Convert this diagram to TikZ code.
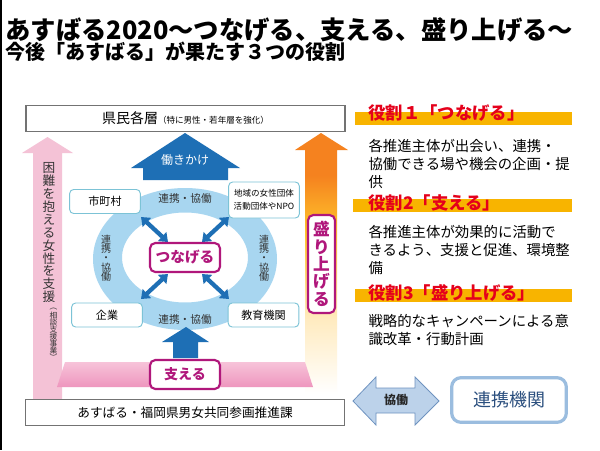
\documentclass[tikz,border=0pt]{standalone}
\usepackage{fontspec}
\setmainfont{Noto Sans CJK JP}
\usetikzlibrary{positioning,arrows.meta}

\definecolor{asuPink}{HTML}{F4C2D6}
\definecolor{asuBandTop}{HTML}{F7C3D9}
\definecolor{asuBand}{HTML}{EE96BE}
\definecolor{asuMagenta}{HTML}{B0177B}
\definecolor{asuRing}{HTML}{A8D6F0}
\definecolor{asuLine}{HTML}{7CC3D6}
\definecolor{asuBlue}{HTML}{1E6FB5}
\definecolor{asuRed}{HTML}{E5001B}
\definecolor{asuBar}{HTML}{F8B400}
\definecolor{asuOrange}{HTML}{F5821F}
\definecolor{asuYellow}{HTML}{FFC72C}
\definecolor{asuPale}{HTML}{FFEBC0}
\definecolor{asuArrow}{HTML}{BCD2EA}
\definecolor{asuArrowLine}{HTML}{6F93C0}
\definecolor{asuFrame}{HTML}{9BBDDF}
\definecolor{asuNavy}{HTML}{2B4F7E}

\pgfdeclareverticalshading{riseup}{100bp}{color(0bp)=(white); color(26bp)=(white); color(40bp)=(asuPale); color(56bp)=(asuYellow); color(67bp)=(asuOrange); color(100bp)=(asuOrange)}

\lineskiplimit=-10pt

\begin{document}
\begin{tikzpicture}[x=0.75pt,y=-0.75pt,thick,node distance=84.75pt,
    outer box/.style={draw=black!55,fill=white,line width=0.8pt,minimum width=239.25pt,minimum height=19.5pt,inner sep=0pt},
    member box/.style={draw=asuLine,fill=white,rounded corners=3pt,line width=0.7pt,minimum width=53pt,minimum height=18pt,inner sep=0pt,font=\fontsize{8.3}{10}\selectfont},
    key box/.style={draw=asuMagenta,fill=white,rounded corners=4pt,line width=1.6pt,text=asuMagenta,inner sep=0pt},
    link label/.style={inner sep=0pt,text=black!80,font=\fontsize{8}{9}\selectfont},
    column label/.style={inner sep=0pt,align=center,text=black!80,font=\fontsize{7.5}{7}\selectfont},
    aid char/.style={inner sep=0pt,text=black!80,font=\fontsize{9.5}{11}\selectfont},
    note char/.style={inner sep=0pt,text=black!80,font=\fontsize{5.8}{7}\selectfont},
    role bar/.style={fill=asuBar},
    role head/.style={anchor=west,inner sep=0pt,text=asuRed,font=\fontsize{13}{15}\selectfont\bfseries},
    role text/.style={anchor=west,inner sep=0pt,align=left,font=\fontsize{10.8}{13.5}\selectfont},
    cross arrow/.style={{Triangle[length=6pt,width=9pt]}-{Triangle[length=6pt,width=9pt]},line width=3.2pt,asuBlue}]

    \fill[white] (0,0) rectangle (600,450);
    \useasboundingbox (0,0) rectangle (600,450);
    \fill[black] (0,0) rectangle (2,450);

    \node[anchor=west,inner sep=0pt,font=\fontsize{19}{23}\selectfont\bfseries]  (title) at (5,30) {あすばる2020～つなげる、支える、盛り上げる～};
    \node[anchor=west,inner sep=0pt,font=\fontsize{15}{18}\selectfont\bfseries]  (subtitle) at (5,52) {今後「あすばる」が果たす３つの役割};

    \fill[asuPink] (47.5,137) -- (73,153) -- (62,153) -- (62,400) -- (33,400) -- (33,153) -- (22,153) -- cycle;
    \shade[shading=riseup] (321,133) -- (348,150) -- (337,150) -- (337,399) -- (305,399) -- (305,150) -- (295,150) -- cycle;

    \fill[asuRing,even odd rule] (185,259) ellipse [x radius=92,y radius=71] (185,257.5) ellipse [x radius=63,y radius=45];
    \shade[top color=asuBandTop,bottom color=asuBand] (65,362) -- (305,362) -- (313,387) -- (57,387) -- cycle;

    \fill[asuBlue] (185,133) -- (240,168) -- (228,168) -- (228,180) -- (143,180) -- (143,168) -- (131,168) -- cycle;
    \fill[asuBlue] (186,327) -- (209,342) -- (198,342) -- (198,358) -- (173,358) -- (173,342) -- (162,342) -- cycle;

    \node[outer box]  (pref) at (185.5,118.5) {\fontsize{10.5}{12}\selectfont 県民各層\fontsize{6.4}{8}\selectfont（特に男性・若年層を強化）};
    \node[outer box]  (office) at (185,412.5) {\fontsize{9.5}{11}\selectfont あすばる・福岡県男女共同参画推進課};

    \node[text=white,inner sep=0pt,font=\fontsize{9}{11}\selectfont]  (work) at (185,160) {働きかけ};

    \foreach \ch [count=\i] in {困,難,を,抱,え,る,女,性,を,支,援}
        \node[aid char]  (aid-\i) at (49,{168+12.9*(\i-1)}) {\ch};
    \foreach \ch [count=\i] in {︵,相,談,支,援,事,業,︶}
        \node[note char]  (note-\i) at (53.5,{309+6.9*(\i-1)}) {\ch};

    \coordinate (nw) at (141,217);
    \coordinate (ne) at (229,217);
    \coordinate (sw) at (141,299);
    \coordinate (se) at (229,299);
    \coordinate (nwin) at (168,242);
    \coordinate (nein) at (202,242);
    \coordinate (swin) at (168,274);
    \coordinate (sein) at (202,274);

    \path[cross arrow]
        (nwin) edge (nw)
        (nein) edge (ne)
        (swin) edge (sw)
        (sein) edge (se)
    ;

    \node[member box]  (city) at (105,201.5) {市町村};
    \node[member box,minimum height=27pt,align=center,font=\fontsize{6.4}{9.5}\selectfont]  (npo) at (264,200) {地域の女性団体\\活動団体やNPO};
    \node[member box]  (firm) at (107,315) {企業};
    \node[member box]  (school) at (263.5,315) {教育機関};

    \node[link label]  (ltop) at (185,198) {連携・協働};
    \node[link label]  (lbot) at (185,319) {連携・協働};
    \node[column label]  (lleft) at (106,258) {連\\携\\・\\協\\働};
    \node[column label]  (lright) at (264,258) {連\\携\\・\\協\\働};

    \node[key box,minimum width=52.5pt,minimum height=21.75pt,font=\fontsize{11}{13}\selectfont\bfseries]  (link) at (185,257.5) {つなげる};
    \node[key box,minimum width=52.5pt,minimum height=21.75pt,font=\fontsize{10.5}{13}\selectfont\bfseries]  (support) at (185,374.5) {支える};
    \node[key box,minimum width=20.25pt,minimum height=73.5pt,align=center,font=\fontsize{12.5}{13}\selectfont\bfseries]  (boost) at (321.5,264) {盛\\り\\上\\げ\\る};

    \fill[role bar] (355,112) rectangle (572,125);
    \node[role head]  (role1) at (368,113) {役割１「つなげる」};
    \node[role text]  (text1) at (368,163.5) {各推進主体が出会い、連携・\\協働できる場や機会の企画・提\\供};

    \fill[role bar] (353,199) rectangle (572,212);
    \node[role head]  (role2) at (368,203) {役割2「支える」};
    \node[role text]  (text2) at (368,250) {各推進主体が効果的に活動で\\きるよう、支援と促進、環境整\\備};

    \fill[role bar] (355,289) rectangle (572,302);
    \node[role head]  (role3) at (368,293) {役割3「盛り上げる」};
    \node[role text]  (text3) at (368,330.5) {戦略的なキャンペーンによる意\\識改革・行動計画};

    \filldraw[fill=asuArrow,draw=asuArrowLine,line width=0.6pt] (353,401) -- (376,377) -- (376,388) -- (415,388) -- (415,377) -- (439,401) -- (415,425) -- (415,413) -- (376,413) -- (376,425) -- cycle;
    \node[inner sep=0pt,text=black!85,font=\fontsize{9}{11}\selectfont\bfseries]  (coop) at (396,400) {協働};
    \node[draw=asuFrame,line width=2.4pt,rounded corners=7pt,fill=white,minimum width=86pt,minimum height=33.5pt,inner sep=0pt,text=asuNavy,font=\fontsize{13.5}{16}\selectfont]  (partner) [right of = coop]{連携機関};
\end{tikzpicture}
\end{document}
